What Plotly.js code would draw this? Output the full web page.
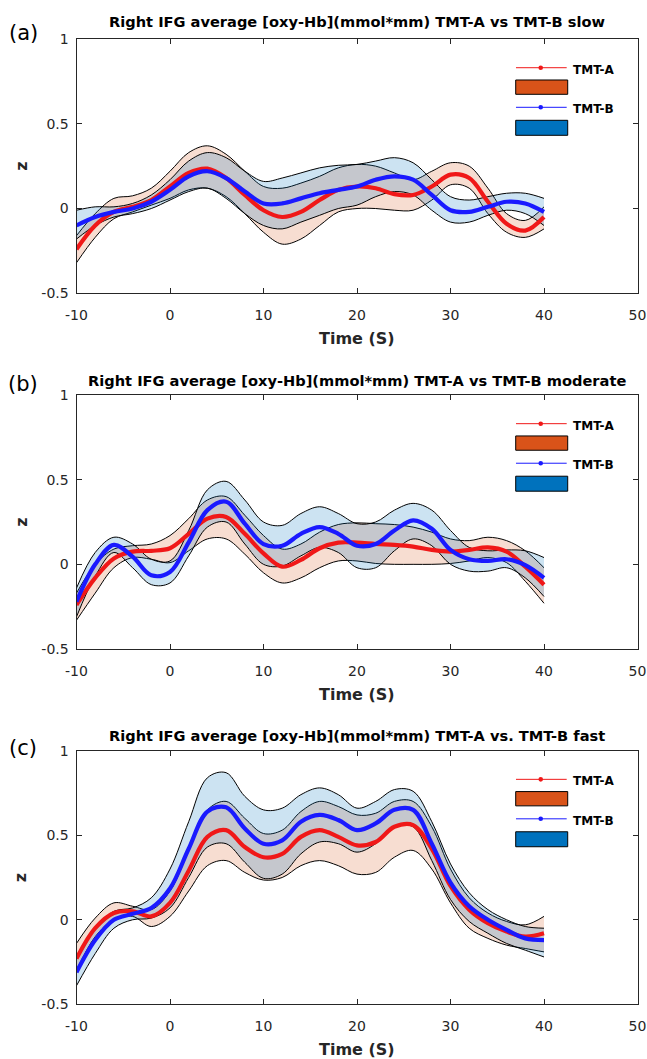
<!DOCTYPE html>
<html><head><meta charset="utf-8">
<script src="https://cdn.plot.ly/plotly-3.0.1.min.js"></script>
<style>html,body{margin:0;padding:0;background:#fff}</style>
</head><body><div id="chart" style="width:647px;height:1059px"></div>
<script>
// ---------------- DATA ----------------
const time = [-10,-8,-6,-4,-2,0,2,4,6,8,10,12,14,16,18,20,22,24,26,28,30,32,34,36,38,40];

// (a) slow
const slowA_mean  = [-0.24,-0.10,-0.02,0.01,0.05,0.13,0.21,0.235,0.18,0.08,-0.01,-0.05,-0.02,0.05,0.11,0.13,0.12,0.085,0.08,0.13,0.20,0.18,0.04,-0.09,-0.13,-0.05];
const slowA_upper = [-0.16,-0.03,0.06,0.075,0.12,0.22,0.33,0.37,0.32,0.22,0.13,0.12,0.15,0.19,0.24,0.26,0.25,0.21,0.17,0.22,0.27,0.25,0.12,-0.03,-0.07,0.01];
const slowA_lower = [-0.32,-0.17,-0.06,-0.02,0.02,0.06,0.11,0.12,0.07,-0.03,-0.14,-0.21,-0.18,-0.10,-0.02,0.00,0.00,-0.01,-0.01,0.05,0.14,0.12,-0.03,-0.14,-0.17,-0.12];
const slowB_mean  = [-0.10,-0.05,-0.02,0.00,0.04,0.11,0.19,0.22,0.18,0.10,0.03,0.03,0.06,0.09,0.11,0.13,0.17,0.19,0.17,0.08,-0.01,-0.02,0.01,0.04,0.03,-0.02];
const slowB_upper = [-0.01,0.01,0.01,0.03,0.08,0.17,0.28,0.33,0.30,0.22,0.16,0.18,0.21,0.24,0.255,0.26,0.28,0.30,0.27,0.17,0.07,0.05,0.07,0.09,0.09,0.06];
const slowB_lower = [-0.18,-0.10,-0.05,-0.03,0.00,0.05,0.10,0.12,0.06,-0.03,-0.10,-0.12,-0.08,-0.04,0.00,0.02,0.07,0.10,0.08,-0.01,-0.08,-0.08,-0.04,-0.01,-0.03,-0.10];

// (b) moderate
const modA_mean  = [-0.24,-0.08,0.035,0.075,0.08,0.095,0.18,0.27,0.28,0.18,0.065,-0.014,0.026,0.095,0.128,0.128,0.12,0.115,0.105,0.085,0.075,0.085,0.10,0.075,-0.014,-0.12];
const modA_upper = [-0.17,0.00,0.09,0.11,0.12,0.17,0.27,0.38,0.40,0.29,0.17,0.09,0.12,0.19,0.235,0.245,0.24,0.235,0.22,0.19,0.15,0.14,0.16,0.14,0.08,-0.02];
const modA_lower = [-0.33,-0.17,-0.02,0.04,0.03,0.01,0.08,0.15,0.15,0.06,-0.05,-0.11,-0.08,-0.02,0.02,0.02,0.005,0.00,0.00,0.00,0.005,0.02,0.04,0.01,-0.10,-0.23];
const modB_mean  = [-0.22,0.00,0.115,0.045,-0.065,-0.045,0.13,0.32,0.37,0.24,0.12,0.11,0.18,0.22,0.18,0.11,0.12,0.20,0.26,0.21,0.085,0.03,0.02,0.03,-0.005,-0.08];
const modB_upper = [-0.14,0.07,0.16,0.12,0.03,0.02,0.20,0.44,0.49,0.38,0.25,0.23,0.30,0.34,0.30,0.24,0.25,0.32,0.36,0.32,0.20,0.10,0.08,0.085,0.08,0.04];
const modB_lower = [-0.31,-0.07,0.07,-0.02,-0.12,-0.11,0.05,0.22,0.25,0.12,0.00,-0.01,0.05,0.10,0.07,-0.02,-0.02,0.08,0.15,0.11,0.00,-0.04,-0.04,-0.02,-0.08,-0.19];

// (c) fast
const fastA_mean  = [-0.23,-0.05,0.04,0.05,0.02,0.10,0.29,0.49,0.53,0.43,0.37,0.39,0.49,0.53,0.49,0.44,0.46,0.55,0.56,0.42,0.20,0.06,-0.02,-0.07,-0.10,-0.08];
const fastA_upper = [-0.14,0.01,0.10,0.08,0.06,0.17,0.41,0.65,0.70,0.60,0.51,0.53,0.64,0.70,0.67,0.62,0.63,0.70,0.70,0.55,0.30,0.13,0.04,-0.01,-0.03,0.02];
const fastA_lower = [-0.30,-0.10,0.00,0.02,-0.04,0.02,0.17,0.32,0.35,0.28,0.235,0.25,0.32,0.35,0.32,0.27,0.28,0.37,0.41,0.30,0.10,-0.05,-0.11,-0.15,-0.17,-0.19];
const fastB_mean  = [-0.31,-0.12,0.00,0.035,0.07,0.185,0.42,0.64,0.665,0.54,0.45,0.47,0.58,0.62,0.59,0.53,0.57,0.65,0.65,0.45,0.22,0.08,0.00,-0.06,-0.11,-0.12];
const fastB_upper = [-0.22,-0.05,0.05,0.07,0.13,0.30,0.58,0.84,0.87,0.73,0.65,0.66,0.74,0.78,0.74,0.66,0.70,0.77,0.76,0.58,0.33,0.16,0.06,0.00,-0.04,-0.05];
const fastB_lower = [-0.39,-0.20,-0.05,0.00,0.01,0.07,0.25,0.43,0.45,0.34,0.245,0.27,0.39,0.46,0.45,0.40,0.45,0.55,0.55,0.35,0.12,-0.01,-0.08,-0.14,-0.18,-0.22];

const panelTitles = [
  "Right IFG average [oxy-Hb](mmol*mm) TMT-A vs TMT-B slow",
  "Right IFG average [oxy-Hb](mmol*mm) TMT-A vs TMT-B moderate",
  "Right IFG average [oxy-Hb](mmol*mm) TMT-A vs. TMT-B fast"
];
const panelLetters = ["(a)","(b)","(c)"];
const seriesNames = ["TMT-A","TMT-B"];
const xTickVals = [-10,0,10,20,30,40,50];
const xTickText = ["-10","0","10","20","30","40","50"];
const yTickVals = [-0.5,0,0.5,1];
const yTickText = ["-0.5","0","0.5","1"];
const xLabel = "Time (S)";
const yLabel = "z";

// ---------------- STYLE ----------------
const W = 647, H = 1059;
const redLine = "#f01818", blueLine = "#1a1aff";
const orangePatch = "rgb(217,83,25)", bluePatch = "rgb(0,114,189)";
const orangeFill = "rgba(217,83,25,0.2)", blueFill = "rgba(0,114,189,0.2)";
const axisCol = "#262626";
const FONT = "DejaVu Sans";

const panels = [
  {A:[slowA_mean,slowA_upper,slowA_lower], B:[slowB_mean,slowB_upper,slowB_lower], top:39,    bottom:293.3,  title:21.5, letter:33.3,  letterX:23.3},
  {A:[modA_mean, modA_upper, modA_lower ], B:[modB_mean, modB_upper, modB_lower ], top:395,   bottom:649,    title:380.5, letter:384,  letterX:22.7},
  {A:[fastA_mean,fastA_upper,fastA_lower], B:[fastB_mean,fastB_upper,fastB_lower], top:750.7, bottom:1004.3, title:735.5, letter:747.5,letterX:22.7}
];
const plotL = 76.5, plotR = 637.5;

const traces = [];
const layout = {
  width: W, height: H, margin: {l:0, r:0, t:0, b:0},
  paper_bgcolor: "#fff", plot_bgcolor: "#fff", showlegend: false,
  font: {family: FONT, color: axisCol},
  annotations: [], shapes: []
};

const py = v => 1 - v / H;
const bandLine = {color: "#000", width: 1, shape: "spline", smoothing: 1};

panels.forEach((p, i) => {
  const sfx = i === 0 ? "" : String(i + 1);
  const xa = "x" + sfx, ya = "y" + sfx;
  // bands
  [[p.A, orangeFill], [p.B, blueFill]].forEach(([s, fc]) => {
    traces.push({x: time, y: s[2], xaxis: xa, yaxis: ya, mode: "lines", line: bandLine, hoverinfo: "skip"});
    traces.push({x: time, y: s[1], xaxis: xa, yaxis: ya, mode: "lines", line: bandLine, fill: "tonexty", fillcolor: fc, hoverinfo: "skip"});
  });
  // means
  traces.push({x: time, y: p.A[0], xaxis: xa, yaxis: ya, mode: "lines", name: seriesNames[0],
               line: {color: redLine, width: 4.2, shape: "spline", smoothing: 1}});
  traces.push({x: time, y: p.B[0], xaxis: xa, yaxis: ya, mode: "lines", name: seriesNames[1],
               line: {color: blueLine, width: 4.2, shape: "spline", smoothing: 1}});

  const common = {
    showline: true, linecolor: axisCol, linewidth: 1, mirror: "ticks",
    ticks: "inside", ticklen: 5, tickcolor: axisCol, tickwidth: 1,
    showgrid: false, zeroline: false, fixedrange: true,
    tickfont: {family: FONT, size: 14, color: axisCol}
  };
  layout["xaxis" + sfx] = Object.assign({}, common, {
    domain: [plotL / W, plotR / W], anchor: ya, range: [-10, 50],
    tickmode: "array", tickvals: xTickVals, ticktext: xTickText, ticklabelstandoff: 9
  });
  layout["yaxis" + sfx] = Object.assign({}, common, {
    domain: [py(p.bottom), py(p.top)], anchor: xa, range: [-0.5, 1],
    tickmode: "array", tickvals: yTickVals, ticktext: yTickText, ticklabelstandoff: 4
  });

  // texts
  layout.annotations.push({xref: "paper", yref: "paper", x: 357 / W, y: py(p.title), xanchor: "center", yanchor: "middle",
    text: "<b>" + panelTitles[i] + "</b>", showarrow: false, font: {family: FONT, size: 14.6, color: "#000"}});
  layout.annotations.push({xref: "paper", yref: "paper", x: p.letterX / W, y: py(p.letter), xanchor: "center", yanchor: "middle",
    text: panelLetters[i], showarrow: false, font: {family: FONT, size: 21, color: "#000"}});
  layout.annotations.push({xref: "paper", yref: "paper", x: 357.4 / W, y: py(p.bottom + 45), xanchor: "center", yanchor: "middle",
    text: "<b>" + xLabel + "</b>", showarrow: false, font: {family: FONT, size: 16, color: axisCol}});
  layout.annotations.push({xref: "paper", yref: "paper", x: 20.7 / W, y: py((p.top + p.bottom) / 2), xanchor: "center", yanchor: "middle",
    text: "<b>" + yLabel + "</b>", textangle: -90, showarrow: false, font: {family: FONT, size: 16, color: axisCol}});

  // legend (drawn per panel, in axis-domain coordinates)
  const xr = xa + " domain", yr = ya + " domain";
  const items = [
    {name: seriesNames[0], line: redLine, patch: orangePatch, ly: 0.8871, p0: 0.7825, p1: 0.8388},
    {name: seriesNames[1], line: blueLine, patch: bluePatch, ly: 0.7314, p0: 0.6213, p1: 0.6803}
  ];
  items.forEach(it => {
    layout.shapes.push({type: "line", xref: xr, yref: yr, x0: 0.7834, x1: 0.8738, y0: it.ly, y1: it.ly,
      line: {color: it.line, width: 1}});
    layout.shapes.push({type: "circle", xref: xr, yref: yr, xsizemode: "pixel", ysizemode: "pixel",
      xanchor: 0.8275, yanchor: it.ly, x0: -2.3, x1: 2.3, y0: -2.3, y1: 2.3,
      fillcolor: it.line, line: {width: 0}});
    layout.shapes.push({type: "rect", xref: xr, yref: yr, x0: 0.7829, x1: 0.8756, y0: it.p0, y1: it.p1,
      fillcolor: it.patch, line: {color: "#000", width: 1}});
    layout.annotations.push({xref: xr, yref: yr, x: 0.881, y: it.ly - 0.008, xanchor: "left", yanchor: "middle",
      text: "<b>" + it.name + "</b>", showarrow: false, font: {family: FONT, size: 12, color: "#000"}});
  });
});

Plotly.newPlot("chart", traces, layout, {staticPlot: true, displayModeBar: false});
</script></body></html>
